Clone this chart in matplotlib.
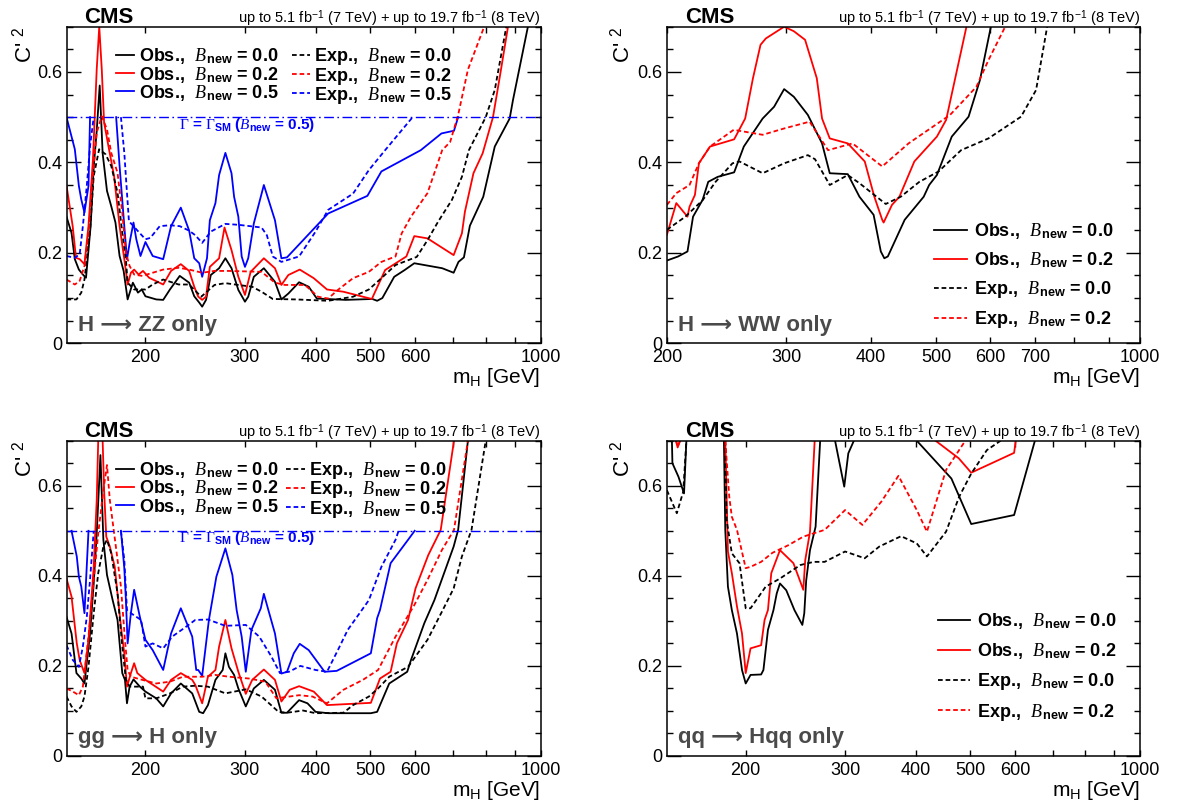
import numpy as np
import matplotlib.pyplot as plt
from matplotlib.ticker import FixedLocator, MultipleLocator, NullLocator

plt.rcParams['font.family'] = ['Liberation Sans', 'DejaVu Sans']
plt.rcParams['mathtext.fontset'] = 'custom'
plt.rcParams['mathtext.rm'] = 'Liberation Sans'
plt.rcParams['mathtext.it'] = 'Liberation Serif:italic'
plt.rcParams['mathtext.bf'] = 'Liberation Sans:bold'
plt.rcParams['mathtext.sf'] = 'Liberation Serif'

nan = np.nan  # nan = curve leaves the drawn range (above 0.7, or above the 0.5 width limit for B_new = 0.5)

# ---------------- H -> ZZ only ----------------
zz_obs00_m = [145, 148, 150, 152.5, 155, 157, 160, 162, 164, 166, 168, 171, 174, 177, 180, 183, 186, 190, 194, 197,
              200, 209, 215, 221, 230, 239, 244, 249, 252, 256, 261, 270, 277, 284, 292, 300, 304, 311, 324, 339,
              348, 358, 374, 389, 402, 452, 504, 514, 525, 551, 575, 598, 670, 702, 716, 732, 750, 792, 830, 882,
              894, 950]
zz_obs00 = [0.28, 0.244, 0.186, 0.163, 0.152, 0.145, 0.26, 0.39, 0.47, 0.57, 0.42, 0.337, 0.303, 0.267, 0.193, 0.16,
            0.097, 0.134, 0.112, 0.119, 0.104, 0.097, 0.096, 0.119, 0.149, 0.134, 0.104, 0.09, 0.081, 0.096, 0.151,
            0.166, 0.188, 0.166, 0.118, 0.092, 0.103, 0.147, 0.166, 0.136, 0.097, 0.11, 0.135, 0.125, 0.099, 0.096,
            0.098, 0.094, 0.1, 0.147, 0.162, 0.177, 0.166, 0.156, 0.18, 0.19, 0.26, 0.324, 0.435, 0.497, 0.538, 0.70]
zz_obs02_m = [145, 148.7, 150.7, 153, 156, 158.6, 161.5, 164, 165.7, 167.4, 169, 172, 176, 180, 183.5, 186, 188.5,
              191, 194.5, 198, 203, 215, 222, 231, 239, 244, 248, 252, 256, 260, 270, 276, 284, 292, 300, 307, 324,
              339, 348, 358, 375, 397, 419, 448, 503, 531, 579, 598, 631, 702, 726, 735, 761, 790, 824, 850, 876]
zz_obs02 = [0.349, 0.259, 0.189, 0.186, 0.175, 0.26, 0.407, 0.606, 0.70, 0.606, 0.488, 0.436, 0.37, 0.259, 0.186,
            0.13, 0.156, 0.163, 0.152, 0.16, 0.145, 0.13, 0.16, 0.175, 0.16, 0.125, 0.103, 0.096, 0.103, 0.169,
            0.188, 0.256, 0.206, 0.147, 0.107, 0.158, 0.188, 0.166, 0.129, 0.151, 0.163, 0.144, 0.119, 0.114, 0.098,
            0.162, 0.192, 0.237, 0.232, 0.195, 0.243, 0.291, 0.376, 0.42, 0.50, 0.60, 0.70]
zz_obs05_m = [145, 150, 152.5, 154, 156, 158.6, 159.6, 168, 177.5, 180, 183.5, 185.5, 188, 190.5, 192.7, 196, 200,
              206, 215, 222, 231, 239, 244, 249, 252, 257, 260, 266, 270, 277, 284, 287, 292, 296, 300, 304, 311,
              324, 339, 348, 356, 421, 494, 523, 614, 668, 703, 715]
zz_obs05 = [0.50, 0.429, 0.348, 0.318, 0.289, 0.348, 0.50, nan, 0.50, 0.392, 0.259, 0.186, 0.23, 0.267, 0.23, 0.193,
            0.224, 0.193, 0.186, 0.259, 0.30, 0.249, 0.188, 0.177, 0.147, 0.188, 0.272, 0.31, 0.372, 0.421, 0.376,
            0.324, 0.28, 0.192, 0.169, 0.188, 0.265, 0.35, 0.272, 0.188, 0.19, 0.287, 0.326, 0.38, 0.427, 0.464,
            0.47, 0.50]
zz_exp00_m = [145, 151, 154, 156, 159.5, 162, 165.6, 170, 174, 178.5, 182, 184.7, 186, 191, 200, 206, 215, 229, 239,
              251, 265, 277, 292, 309, 321, 336, 369, 421, 466, 497, 523, 554, 604, 631, 659, 697, 726, 747, 800,
              830, 870]
zz_exp00 = [0.097, 0.097, 0.112, 0.141, 0.245, 0.37, 0.429, 0.418, 0.392, 0.333, 0.245, 0.186, 0.134, 0.119, 0.119,
            0.13, 0.141, 0.13, 0.13, 0.103, 0.129, 0.133, 0.129, 0.125, 0.114, 0.098, 0.097, 0.094, 0.103, 0.119,
            0.144, 0.173, 0.191, 0.228, 0.269, 0.317, 0.368, 0.427, 0.50, 0.56, 0.70]
zz_exp02_m = [145, 150, 153, 156, 158.6, 161, 164, 167.4, 171, 174, 178.5, 182, 184.7, 187.5, 191, 197.5, 206, 215,
              229, 239, 252, 265, 281, 321, 339, 353, 383, 404, 421, 438, 466, 497, 523, 554, 568, 590, 631, 670,
              692, 715, 744, 795]
zz_exp02 = [0.141, 0.13, 0.138, 0.171, 0.245, 0.355, 0.466, 0.502, 0.473, 0.421, 0.377, 0.289, 0.2, 0.171, 0.152,
            0.149, 0.156, 0.163, 0.167, 0.163, 0.156, 0.16, 0.16, 0.158, 0.134, 0.129, 0.129, 0.103, 0.099, 0.118,
            0.144, 0.158, 0.18, 0.192, 0.243, 0.28, 0.332, 0.427, 0.445, 0.505, 0.605, 0.70]
zz_exp05_m = [145, 150, 153, 155, 157.5, 159.6, 162, 171, 181, 183.5, 185.5, 187, 192.7, 200, 204, 212, 221, 230,
              239, 245, 252, 261, 277, 292, 321, 328, 336, 348, 374, 400, 421, 466, 497, 531, 594]
zz_exp05 = [0.193, 0.189, 0.197, 0.259, 0.348, 0.436, 0.50, nan, 0.50, 0.421, 0.333, 0.27, 0.252, 0.23, 0.233,
            0.259, 0.261, 0.259, 0.249, 0.239, 0.222, 0.247, 0.264, 0.262, 0.256, 0.239, 0.192, 0.18, 0.192, 0.247,
            0.295, 0.331, 0.383, 0.427, 0.50]

# ---------------- H -> WW only ----------------
ww_obs00_m = [200, 207.8, 214.5, 218.6, 225.8, 230.2, 237.7, 251.4, 259.8, 277, 288, 298, 308, 323, 339, 348, 370,
              385, 404, 414, 419, 424, 449, 479, 488, 501, 527, 558, 580, 602]
ww_obs00 = [0.183, 0.192, 0.203, 0.28, 0.317, 0.357, 0.368, 0.378, 0.435, 0.497, 0.523, 0.562, 0.545, 0.505, 0.442,
            0.376, 0.374, 0.324, 0.284, 0.203, 0.188, 0.192, 0.273, 0.324, 0.35, 0.372, 0.457, 0.501, 0.582, 0.70]
ww_obs02_m = [200, 206.5, 214.5, 216, 220, 223, 231.6, 251.4, 261, 268, 275, 280, 298, 308, 320, 333, 339, 348,
              370, 392, 405, 416, 418, 430, 441, 464, 501, 517, 554]
ww_obs02 = [0.24, 0.31, 0.28, 0.302, 0.328, 0.398, 0.435, 0.451, 0.497, 0.586, 0.66, 0.674, 0.70, 0.69, 0.671,
            0.586, 0.497, 0.453, 0.442, 0.402, 0.324, 0.273, 0.267, 0.306, 0.324, 0.402, 0.457, 0.494, 0.70]
ww_exp00_m = [200, 213, 226, 236, 250, 256, 277, 298, 323, 331, 348, 370, 385, 421, 443, 472, 504, 544, 597, 667,
              702, 729]
ww_exp00 = [0.251, 0.28, 0.317, 0.357, 0.398, 0.402, 0.376, 0.398, 0.416, 0.407, 0.35, 0.372, 0.354, 0.308, 0.324,
            0.357, 0.38, 0.427, 0.453, 0.501, 0.56, 0.70]
ww_exp02_m = [200, 206.5, 216, 223, 231.6, 251, 277, 298, 325, 346, 376, 416, 455, 524, 573, 597, 632]
ww_exp02 = [0.306, 0.332, 0.35, 0.398, 0.435, 0.472, 0.461, 0.475, 0.49, 0.427, 0.442, 0.391, 0.442, 0.505, 0.567,
            0.626, 0.70]

# ---------------- gg -> H only ----------------
gg_obs00_m = [145, 148, 151, 154, 156, 159.6, 162, 164, 166.5, 168.5, 171, 175, 178.5, 182, 184, 185.5, 187.5,
              190.5, 195.5, 200, 209, 215, 222, 231, 242, 249, 253, 258, 266, 274, 277, 281, 287, 292, 301, 311,
              324, 339, 348, 356, 374, 387, 400, 421, 501, 514, 540, 581, 590, 623, 649, 702, 715, 744]
gg_obs00 = [0.309, 0.272, 0.184, 0.172, 0.161, 0.272, 0.383, 0.494, 0.668, 0.48, 0.402, 0.346, 0.302, 0.184, 0.169,
            0.117, 0.154, 0.17, 0.154, 0.143, 0.128, 0.11, 0.139, 0.161, 0.139, 0.098, 0.095, 0.113, 0.169, 0.191,
            0.228, 0.198, 0.18, 0.15, 0.11, 0.15, 0.169, 0.147, 0.096, 0.096, 0.124, 0.117, 0.098, 0.095, 0.095,
            0.098, 0.161, 0.187, 0.213, 0.295, 0.346, 0.465, 0.502, 0.70]
gg_obs02_m = [145, 148, 151.2, 153, 156, 158.6, 162, 164, 165, 166.5, 168, 169, 170.5, 173, 176.5, 181, 183.5,
              185.5, 188.5, 191, 193.5, 200, 215, 222, 231, 242, 245, 252, 258, 266, 270, 277, 284, 292, 301, 309,
              324, 339, 348, 360, 374, 397, 419, 501, 520, 543, 557, 583, 601, 633, 666, 703]
gg_obs02 = [0.394, 0.354, 0.25, 0.213, 0.184, 0.258, 0.42, 0.568, 0.70, nan, 0.70, 0.59, 0.487, 0.465, 0.42, 0.287,
            0.228, 0.154, 0.184, 0.206, 0.184, 0.169, 0.143, 0.169, 0.184, 0.169, 0.158, 0.117, 0.176, 0.191, 0.243,
            0.302, 0.239, 0.187, 0.138, 0.169, 0.192, 0.169, 0.121, 0.147, 0.155, 0.143, 0.113, 0.118, 0.172, 0.187,
            0.25, 0.302, 0.372, 0.446, 0.502, 0.70]
gg_obs05_m = [148, 151.2, 152.5, 154, 156, 158.6, 170, 181, 183.5, 184.7, 186, 188.5, 191, 195.5, 200, 206, 215, 222,
              231, 242, 246, 248, 252, 259, 267, 277, 285, 290, 296, 301, 308, 320, 324, 330, 339, 348, 356, 366,
              375, 389, 415, 436, 501, 514, 520, 543, 583, 599]
gg_obs05 = [0.5, 0.443, 0.398, 0.376, 0.317, 0.5, nan, 0.5, 0.417, 0.346, 0.25, 0.317, 0.369, 0.309, 0.258, 0.235,
            0.191, 0.272, 0.328, 0.265, 0.191, 0.191, 0.178, 0.302, 0.398, 0.461, 0.402, 0.324, 0.265, 0.187, 0.28,
            0.328, 0.36, 0.324, 0.272, 0.183, 0.187, 0.228, 0.249, 0.235, 0.187, 0.189, 0.228, 0.306, 0.324, 0.428,
            0.48, 0.5]
gg_exp00_m = [145, 148, 151, 154, 156, 158.6, 162, 165, 168.5, 171, 174, 178.5, 182, 184.7, 187.5, 195.5, 198, 200,
              209, 221, 233, 245, 258, 277, 301, 321, 344, 356, 380, 400, 448, 466, 497, 516, 540, 583, 631, 669,
              702, 726, 755, 800]
gg_exp00 = [0.132, 0.11, 0.098, 0.11, 0.132, 0.198, 0.317, 0.406, 0.465, 0.48, 0.45, 0.361, 0.243, 0.169, 0.154,
            0.154, 0.154, 0.128, 0.128, 0.139, 0.154, 0.156, 0.154, 0.139, 0.148, 0.132, 0.098, 0.096, 0.101, 0.095,
            0.096, 0.113, 0.132, 0.15, 0.176, 0.198, 0.258, 0.32, 0.372, 0.443, 0.502, 0.70]
gg_exp02_m = [145, 148.8, 152.5, 155, 158.6, 162, 165, 168.5, 171, 173, 177, 181, 184, 186, 188.5, 197.5, 209, 221,
              233, 252, 266, 281, 305, 326, 341, 374, 395, 419, 448, 485, 516, 554, 598, 631, 669, 703, 744]
gg_exp02 = [0.15, 0.143, 0.135, 0.154, 0.265, 0.391, 0.494, 0.59, 0.646, 0.568, 0.472, 0.376, 0.258, 0.191, 0.176,
            0.169, 0.161, 0.165, 0.176, 0.176, 0.18, 0.176, 0.172, 0.165, 0.128, 0.135, 0.132, 0.117, 0.147, 0.169,
            0.191, 0.265, 0.335, 0.391, 0.457, 0.502, 0.70]
gg_exp05_m = [145, 148.8, 152.5, 155, 157.5, 159.6, 162, 171, 181, 183.5, 185.5, 188.5, 196.5, 200, 206, 215, 223,
              236, 245, 258, 277, 301, 318, 334, 346, 359, 376, 400, 419, 438, 456, 497, 523, 554, 561]
gg_exp05 = [0.246, 0.213, 0.198, 0.243, 0.309, 0.391, 0.5, nan, 0.5, 0.435, 0.324, 0.317, 0.302, 0.243, 0.25, 0.239,
            0.265, 0.287, 0.302, 0.303, 0.289, 0.291, 0.265, 0.221, 0.184, 0.187, 0.2, 0.191, 0.187, 0.235, 0.28,
            0.346, 0.42, 0.48, 0.5]

# ---------------- qq -> Hqq only ----------------
qq_obs00_m = [148, 148.3, 152, 155.5, 157, 170, 183, 184, 186, 189, 193, 197, 200, 204, 213, 215, 219, 224, 227, 230,
              236, 244, 252, 254, 256, 260, 266, 271, 280, 288, 299, 304, 311, 350, 402, 463, 502, 598, 651]
qq_obs00 = [0.70, 0.65, 0.62, 0.583, 0.70, nan, 0.70, 0.502, 0.376, 0.324, 0.272, 0.191, 0.161, 0.18, 0.181, 0.191,
            0.28, 0.324, 0.361, 0.383, 0.368, 0.324, 0.291, 0.317, 0.39, 0.457, 0.509, 0.70, nan, 0.70, 0.598,
            0.672, 0.70, nan, 0.70, 0.616, 0.515, 0.535, 0.70]
qq_obs02_m = [150.5, 151.5, 153, 170, 184, 186, 189, 193, 197, 200, 204, 213, 216, 219, 222, 230, 243, 253, 255, 260,
              265, 350, 434, 477, 502, 598, 602]
qq_obs02 = [0.70, 0.685, 0.70, nan, 0.70, 0.454, 0.406, 0.332, 0.272, 0.184, 0.239, 0.246, 0.302, 0.324, 0.406,
            0.457, 0.428, 0.369, 0.435, 0.498, 0.70, nan, 0.70, 0.661, 0.629, 0.673, 0.70]
qq_exp00_m = [145, 151, 155, 157, 170, 184, 185, 189, 195, 200, 204, 217, 230, 250, 264, 276, 300, 325, 345, 377,
              402, 419, 453, 478, 502, 535, 566]
qq_exp00 = [0.59, 0.539, 0.587, 0.70, nan, 0.70, 0.524, 0.45, 0.428, 0.328, 0.328, 0.376, 0.394, 0.424, 0.431,
            0.431, 0.454, 0.439, 0.465, 0.488, 0.472, 0.443, 0.498, 0.576, 0.627, 0.679, 0.70]
qq_exp02_m = [150.5, 151.5, 153, 170, 184, 187, 189, 193, 200, 204, 213, 223, 238, 253, 276, 300, 322, 348, 373,
              402, 419, 453, 490]
qq_exp02 = [0.70, 0.687, 0.70, nan, 0.70, 0.576, 0.531, 0.502, 0.417, 0.42, 0.431, 0.451, 0.468, 0.487, 0.502,
            0.546, 0.513, 0.565, 0.622, 0.546, 0.498, 0.635, 0.70]

gamma_sm_limit = 0.5
xticks = [200, 300, 400, 500, 600, 700, 800, 900, 1000]
lumi = r'up to 5.1 fb$^{-1}$ (7 TeV) + up to 19.7 fb$^{-1}$ (8 TeV)'

# --------------------------------------------
# Layout (pixel boxes of the four pads)
# --------------------------------------------
W, H = 1178, 807
fig = plt.figure(figsize=(W / 100, H / 100), dpi=100)


def box(l, t, r, b):
    return [l / W, 1 - b / H, (r - l) / W, (b - t) / H]


ax_zz = fig.add_axes(box(66.5, 26.7, 540.5, 343.3))
ax_ww = fig.add_axes(box(666.9, 26.7, 1140.1, 343.3))
ax_gg = fig.add_axes(box(66.5, 440.7, 540.5, 756))
ax_qq = fig.add_axes(box(666.9, 440.7, 1140.1, 756))

DASH = (0, (2.6, 1.6))
ARROW = '\u27f6'  # long right arrow, taken from DejaVu Sans


def lab(kind, b):
    return kind + r',  $\mathit{B}_{\,\mathbf{new}}$ = ' + b


def style(ax, xmin, shown, tag, ylab_x):
    ax.set_xscale('log')
    ax.set_xlim(xmin, 1000)
    ax.set_ylim(0, 0.7)
    ax.xaxis.set_major_locator(FixedLocator(xticks))
    ax.xaxis.set_minor_locator(NullLocator())
    ax.set_xticklabels([str(t) if t in shown else '' for t in xticks])
    ax.yaxis.set_major_locator(FixedLocator([0, 0.2, 0.4, 0.6]))
    ax.set_yticklabels(['0', '0.2', '0.4', '0.6'])
    ax.yaxis.set_minor_locator(MultipleLocator(0.05))
    ax.tick_params(which='both', direction='in', top=True, right=True, labelsize=13)
    ax.tick_params(axis='y', which='major', length=10, width=1, pad=3)
    ax.tick_params(axis='y', which='minor', length=4.3, width=1)
    ax.tick_params(axis='x', which='major', length=4, width=1, pad=4)
    for s in ax.spines.values():
        s.set_linewidth(1.1)
    ax.text(0.038, 1.012, 'CMS', transform=ax.transAxes, fontsize=16, fontweight='bold', va='baseline')
    ax.text(1.0, 1.011, lumi, transform=ax.transAxes, fontsize=10.5, ha='right', va='baseline')
    ax.text(1.0, -0.072, r'm$_{\mathrm{H}}$ [GeV]', transform=ax.transAxes, fontsize=15, ha='right', va='top')
    ax.text(ylab_x, 1.0, "C' $^{2}$", transform=ax.transAxes, fontsize=16, rotation=90, ha='center', va='top')
    ax.text(0.024, 0.04, tag, transform=ax.transAxes, fontsize=16, fontweight='bold', color='#4a4a4a',
            va='baseline', family=['Liberation Sans', 'DejaVu Sans'])


def draw(ax, m, v, color, dashed, label):
    ax.plot(m, v, color=color, lw=1.3, ls=DASH if dashed else '-', label=label)


# -------- H -> ZZ --------
ax = ax_zz
draw(ax, zz_obs00_m, zz_obs00, 'black', False, lab('Obs.', '0.0'))
draw(ax, zz_obs02_m, zz_obs02, 'red', False, lab('Obs.', '0.2'))
draw(ax, zz_obs05_m, zz_obs05, 'blue', False, lab('Obs.', '0.5'))
draw(ax, zz_exp00_m, zz_exp00, 'black', True, lab('Exp.', '0.0'))
draw(ax, zz_exp02_m, zz_exp02, 'red', True, lab('Exp.', '0.2'))
draw(ax, zz_exp05_m, zz_exp05, 'blue', True, lab('Exp.', '0.5'))
style(ax, 145, [200, 300, 400, 500, 600, 1000], 'H ' + ARROW + ' ZZ only', -0.09)

# -------- gg -> H --------
ax = ax_gg
draw(ax, gg_obs00_m, gg_obs00, 'black', False, lab('Obs.', '0.0'))
draw(ax, gg_obs02_m, gg_obs02, 'red', False, lab('Obs.', '0.2'))
draw(ax, gg_obs05_m, gg_obs05, 'blue', False, lab('Obs.', '0.5'))
draw(ax, gg_exp00_m, gg_exp00, 'black', True, lab('Exp.', '0.0'))
draw(ax, gg_exp02_m, gg_exp02, 'red', True, lab('Exp.', '0.2'))
draw(ax, gg_exp05_m, gg_exp05, 'blue', True, lab('Exp.', '0.5'))
style(ax, 145, [200, 300, 400, 500, 600, 1000], 'gg ' + ARROW + ' H only', -0.09)

for ax, cs in [(ax_zz, 0.75), (ax_gg, 0.45)]:
    ax.axhline(gamma_sm_limit, color='blue', lw=1.0, ls=(0, (7, 2.5, 1.2, 2.5)))
    ax.text(229, 0.483, r'$\mathsf{\Gamma}$ = $\mathsf{\Gamma}_{\mathbf{SM}}$ ($\mathit{B}_{\mathbf{new}}$ = 0.5)',
            color='blue', fontsize=11, fontweight='bold', va='center', ha='left')
    ax.legend(loc='upper left', bbox_to_anchor=(0.105, 0.938), ncol=2, frameon=False,
              prop={'weight': 'bold', 'size': 13}, handlelength=1.0, handletextpad=0.25,
              columnspacing=cs, labelspacing=-0.1, borderpad=0, borderaxespad=0)

# -------- H -> WW --------
ax = ax_ww
draw(ax, ww_obs00_m, ww_obs00, 'black', False, lab('Obs.', '0.0'))
draw(ax, ww_obs02_m, ww_obs02, 'red', False, lab('Obs.', '0.2'))
draw(ax, ww_exp00_m, ww_exp00, 'black', True, lab('Exp.', '0.0'))
draw(ax, ww_exp02_m, ww_exp02, 'red', True, lab('Exp.', '0.2'))
style(ax, 200, [200, 300, 400, 500, 600, 700, 1000], 'H ' + ARROW + ' WW only', -0.095)
ax.legend(loc='upper left', bbox_to_anchor=(0.565, 0.386), frameon=False,
          prop={'weight': 'bold', 'size': 13}, handlelength=1.8, handletextpad=0.4,
          labelspacing=0.5, borderpad=0, borderaxespad=0)

# -------- qq -> Hqq --------
ax = ax_qq
draw(ax, qq_obs00_m, qq_obs00, 'black', False, lab('Obs.', '0.0'))
draw(ax, qq_obs02_m, qq_obs02, 'red', False, lab('Obs.', '0.2'))
draw(ax, qq_exp00_m, qq_exp00, 'black', True, lab('Exp.', '0.0'))
draw(ax, qq_exp02_m, qq_exp02, 'red', True, lab('Exp.', '0.2'))
style(ax, 145, [200, 300, 400, 500, 600, 1000], 'qq ' + ARROW + ' Hqq only', -0.095)
ax.legend(loc='upper left', bbox_to_anchor=(0.572, 0.46), frameon=False,
          prop={'weight': 'bold', 'size': 13}, handlelength=1.8, handletextpad=0.4,
          labelspacing=0.55, borderpad=0, borderaxespad=0)

fig.savefig('out.png', dpi=100)
